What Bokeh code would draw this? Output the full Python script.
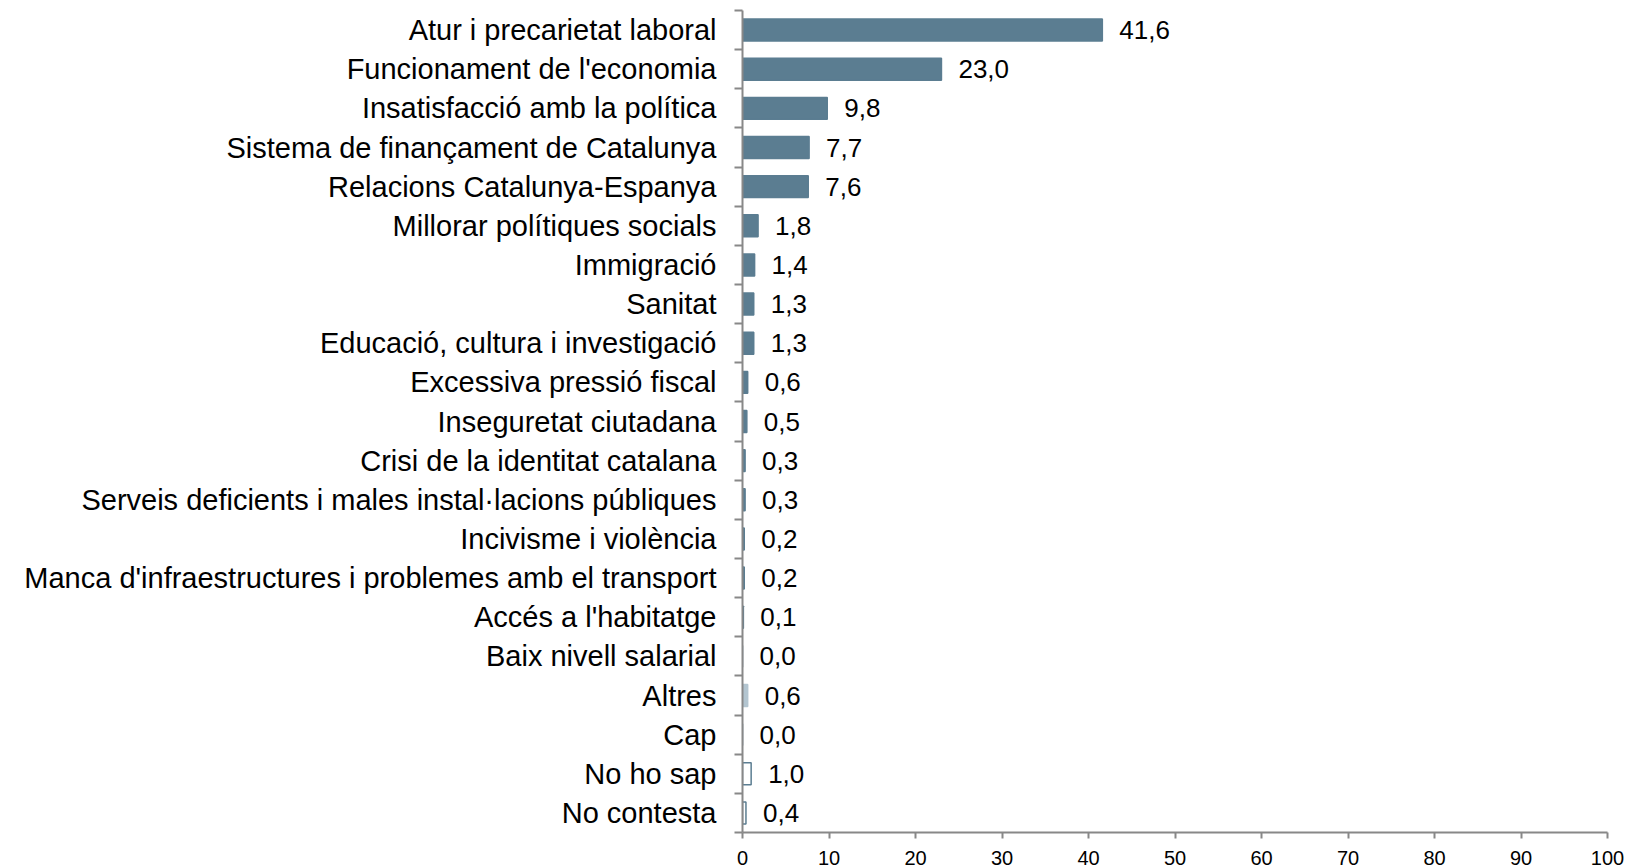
from bokeh.plotting import figure
from bokeh.models import Range1d, FixedTicker, ColumnDataSource
from bokeh.core.properties import value
from bokeh.embed import file_html
from bokeh.resources import INLINE

categories = [
    "Atur i precarietat laboral",
    "Funcionament de l'economia",
    "Insatisfacció amb la política",
    "Sistema de finançament de Catalunya",
    "Relacions Catalunya-Espanya",
    "Millorar polítiques socials",
    "Immigració",
    "Sanitat",
    "Educació, cultura i investigació",
    "Excessiva pressió fiscal",
    "Inseguretat ciutadana",
    "Crisi de la identitat catalana",
    "Serveis deficients i males instal·lacions públiques",
    "Incivisme i violència",
    "Manca d'infraestructures i problemes amb el transport",
    "Accés a l'habitatge",
    "Baix nivell salarial",
    "Altres",
    "Cap",
    "No ho sap",
    "No contesta",
]
values = [41.6, 23.0, 9.8, 7.7, 7.6, 1.8, 1.4, 1.3, 1.3, 0.6, 0.5, 0.3, 0.3,
          0.2, 0.2, 0.1, 0.0, 0.6, 0.0, 1.0, 0.4]
kinds = ["main"] * 17 + ["other", "empty", "empty", "empty"]
x_ticks = [0, 10, 20, 30, 40, 50, 60, 70, 80, 90, 100]

MAIN = "#5B7D91"
OTHER = "#B3C5D0"
n = len(categories)
ypos = [n - 1 - i for i in range(n)]
fills = [MAIN if k == "main" else (OTHER if k == "other" else "#FFFFFF") for k in kinds]
lines = [MAIN if k == "main" else (OTHER if k == "other" else MAIN) for k in kinds]
labels = [f"{v:.1f}".replace(".", ",") for v in values]

src = ColumnDataSource(dict(y=ypos, v=values, fill=fills, line=lines, lab=labels))

p = figure(width=1632, height=867, output_backend="svg", toolbar_location=None,
           x_range=Range1d(0, 100), y_range=Range1d(-0.5, n - 0.5),
           min_border_left=742, min_border_right=25, min_border_top=10,
           min_border_bottom=0)
p.outline_line_color = None
p.xgrid.visible = False
p.ygrid.visible = False
p.background_fill_color = "white"
p.border_fill_color = "white"

p.hbar(y="y", right="v", left=0, height=0.56, source=src,
       fill_color="fill", line_color="line", line_width=1.5)
p.text(x="v", y="y", text="lab", source=src, x_offset=17,
       text_baseline="middle", text_align="left",
       text_font=value("Liberation Sans"), text_font_size="26px",
       text_color="#000000")

AX = "#888888"
xa = p.xaxis[0]
xa.ticker = FixedTicker(ticks=x_ticks)
xa.axis_line_color = AX
xa.axis_line_width = 2
xa.major_tick_line_color = AX
xa.major_tick_line_width = 2
xa.major_tick_out = 6
xa.major_tick_in = 0
xa.minor_tick_line_color = None
xa.major_label_standoff = 12
xa.major_label_text_font = "Liberation Sans"
xa.major_label_text_font_size = "20px"
xa.major_label_text_color = "#000000"

ya = p.yaxis[0]
ya.ticker = FixedTicker(ticks=ypos, minor_ticks=[y - 0.5 for y in range(n + 1)])
ya.major_label_overrides = {ypos[i]: categories[i] for i in range(n)}
ya.axis_line_color = AX
ya.axis_line_width = 2
ya.major_tick_line_color = None
ya.major_tick_out = 0
ya.major_tick_in = 0
ya.minor_tick_line_color = AX
ya.minor_tick_line_width = 2
ya.minor_tick_out = 8
ya.minor_tick_in = 0
ya.major_label_standoff = 18
ya.major_label_text_font = "Liberation Sans"
ya.major_label_text_font_size = "29px"
ya.major_label_text_color = "#000000"

open("out.html", "w").write(file_html(p, INLINE))
